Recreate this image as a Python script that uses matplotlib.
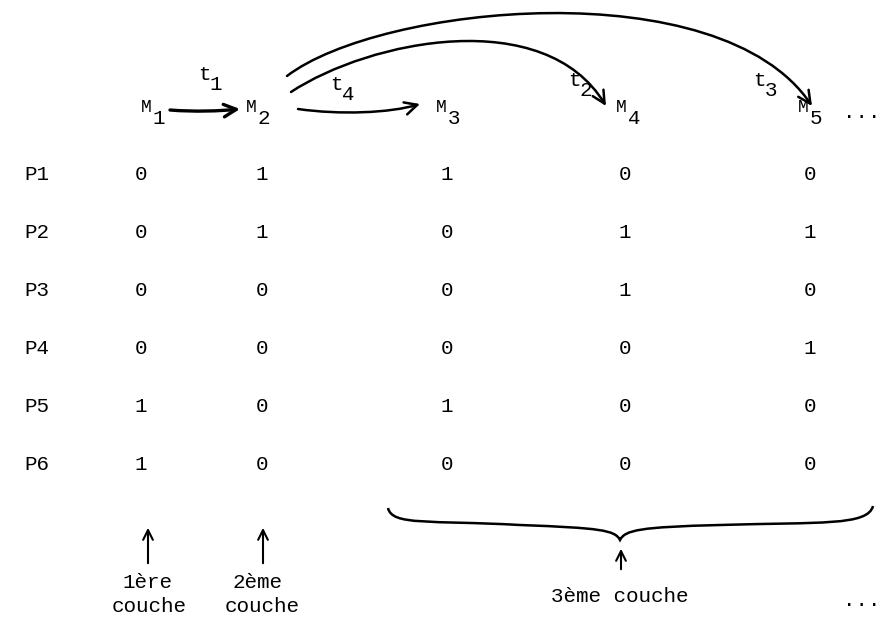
import numpy as np
import matplotlib.pyplot as plt
from matplotlib.patches import FancyArrowPatch, PathPatch
from matplotlib.path import Path

# Places et marquages
places = ['P1', 'P2', 'P3', 'P4', 'P5', 'P6']
marquages = ['1', '2', '3', '4', '5']
valeurs = [
    [0, 1, 1, 0, 0],
    [0, 1, 0, 1, 1],
    [0, 0, 0, 1, 0],
    [0, 0, 0, 0, 1],
    [1, 0, 1, 0, 0],
    [1, 0, 0, 0, 0],
]
transitions = ['1', '4', '2', '3']

col_x = [141, 262, 447, 625, 810]
row_y = [174, 232, 290, 348, 406, 464]
head_x = [146, 251, 441, 621, 803]
font = 'Liberation Mono'
fs = 15

fig = plt.figure(figsize=(8.96, 6.2), dpi=100)
ax = fig.add_axes([0, 0, 1, 1])
ax.set_xlim(0, 896)
ax.set_ylim(620, 0)
ax.axis('off')

def txt(x, y, s, size=fs):
    ax.text(x, y, s, family=font, fontsize=size, ha='center', va='center')

# en-têtes M_i
for i, m in enumerate(marquages):
    txt(head_x[i], 108, 'M', fs - 2)
    txt(head_x[i] + 13, 118, m)
txt(862, 112, '...')

# tableau
for r, p in enumerate(places):
    txt(37, row_y[r], p)
    for c in range(len(marquages)):
        txt(col_x[c], row_y[r], str(valeurs[r][c]))

# étiquettes des transitions
t_pos = [(204, 74), (336, 84), (574, 80), (759, 80)]
for (x, y), k in zip(t_pos, transitions):
    txt(x, y, 't')
    txt(x + 12, y + 10, k)

kw = dict(arrowstyle='->,head_length=9,head_width=4.5', color='black', lw=1.8,
          mutation_scale=1)
C = [Path.MOVETO, Path.CURVE4, Path.CURVE4, Path.CURVE4]
ax.add_patch(FancyArrowPatch(path=Path([(170, 110), (195, 112), (220, 111), (240, 109)], C),
                             **dict(kw, lw=2.4)))
ax.add_patch(FancyArrowPatch(path=Path([(298, 109), (340, 115), (390, 113), (420, 104)], C), **kw))
ax.add_patch(FancyArrowPatch(path=Path([(291, 92), (370, 40), (545, 5), (606, 106)], C), **kw))
ax.add_patch(FancyArrowPatch(path=Path([(287, 76), (380, 5), (720, -30), (812, 106)], C), **kw))

# flèches des couches
up = dict(arrowstyle='->,head_length=0.7,head_width=0.35', lw=1.5, color='black')
for x in [148, 263]:
    ax.annotate('', xy=(x, 525), xytext=(x, 566), arrowprops=up)
ax.annotate('', xy=(621, 546), xytext=(621, 572), arrowprops=up)

# accolade
verts = [(388, 508), (392, 526), (430, 520), (520, 525),
         (600, 528), (615, 530), (620, 540),
         (625, 530), (640, 527), (720, 525),
         (820, 522), (868, 526), (873, 506)]
codes = [Path.MOVETO] + [Path.CURVE4] * 12
ax.add_patch(PathPatch(Path(verts, codes), fill=False, lw=1.8, color='black'))

txt(147, 582, '1ère')
txt(149, 607, 'couche')
txt(258, 582, '2ème')
txt(262, 607, 'couche')
txt(620, 597, '3ème couche')
txt(862, 601, '...')

fig.savefig('out.png', dpi=100)
